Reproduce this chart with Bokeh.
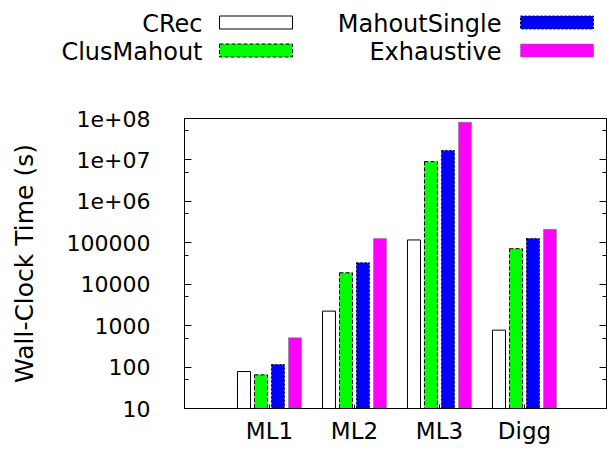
from bokeh.plotting import figure
from bokeh.models import Range1d, FixedTicker, LogAxis
from bokeh.embed import file_html
from bokeh.resources import INLINE
from bokeh.core.properties import value

# ---- data ----
datasets = ["ML1", "ML2", "ML3", "Digg"]
series = ["CRec", "ClusMahout", "MahoutSingle", "Exhaustive"]
crec = [78, 2240, 117000, 780]
clus_mahout = [65, 18900, 9100000, 72000]
mahout_single = [115, 33000, 17000000, 127000]
exhaustive = [510, 127000, 81000000, 211000]
values = [crec, clus_mahout, mahout_single, exhaustive]
y_ticks = [10, 100, 1000, 10000, 100000, 1000000, 10000000, 100000000]
y_tick_labels = ["10", "100", "1000", "10000", "100000", "1e+06", "1e+07", "1e+08"]
y_minor = [50, 500, 5000, 50000, 500000, 5000000, 50000000]

# ---- style ----
FONT = "DejaVu Sans"
fill_colors = ["white", "#00ff00", "#0000ff", "#ff00ff"]
line_colors = ["black", "black", "#000022", "#777777"]
line_dashes = ["solid", "4 2", "2 2", "1 1"]
offsets = [-0.3, -0.1, 0.1, 0.3]
bar_w = 0.153

W = 607
LEG_H = 70

# ---- legend strip (label right-aligned, swatch to its right) ----
lg = figure(width=W, height=LEG_H, x_range=Range1d(0, W), y_range=Range1d(LEG_H, 0),
            toolbar_location=None, output_backend="svg", min_border=0)
lg.axis.visible = False
lg.grid.visible = False
lg.outline_line_color = None
text_right = [202, 501]
sw_left = [219, 520]
sw_width = 73
rows = [22, 50]
for i, name in enumerate(series):
    c, r = i // 2, i % 2
    lg.text(x=[text_right[c]], y=[rows[r] + 1], text=[name], text_align="right",
            text_baseline="middle", text_font=value(FONT), text_font_size="24px",
            text_color="black")
    lg.quad(left=[sw_left[c]], right=[sw_left[c] + sw_width],
            top=[rows[r] - 6.5], bottom=[rows[r] + 6.5],
            fill_color=fill_colors[i], line_color=line_colors[i],
            line_dash=line_dashes[i], line_width=1)

# ---- main chart ----
p = figure(width=W, height=450 - LEG_H, x_range=Range1d(0, 4.965),
           y_range=Range1d(10, 1e8), y_axis_type="log",
           toolbar_location=None, output_backend="svg",
           min_border_left=184, min_border_right=1, min_border_top=118 - LEG_H,
           min_border_bottom=42)
p.grid.visible = False
p.outline_line_color = "black"
p.outline_line_width = 1

xs = list(range(1, len(datasets) + 1))
for i, vals in enumerate(values):
    p.vbar(x=[x + offsets[i] for x in xs], top=vals, bottom=10, width=bar_w,
           fill_color=fill_colors[i], line_color=line_colors[i],
           line_dash=line_dashes[i], line_width=1)

xa = p.xaxis[0]
xa.ticker = FixedTicker(ticks=xs)
xa.major_label_overrides = {x: d for x, d in zip(xs, datasets)}
xa.major_tick_in = 4
xa.major_tick_out = 0
xa.minor_tick_line_color = None
xa.major_label_standoff = 9
xa.major_label_text_font = FONT
xa.major_label_text_font_size = "23px"
xa.major_label_text_color = "black"
xa.axis_line_color = "black"

ya = p.yaxis[0]
ya.ticker = FixedTicker(ticks=y_ticks, minor_ticks=y_minor)
ya.major_label_overrides = {t: l for t, l in zip(y_ticks, y_tick_labels)}
ya.major_tick_in = 7
ya.major_tick_out = 0
ya.minor_tick_in = 4
ya.minor_tick_out = 0
ya.major_label_standoff = 34
ya.major_label_text_font = FONT
ya.major_label_text_font_size = "22px"
ya.major_label_text_color = "black"
ya.axis_label = "Wall-Clock Time (s)"
ya.axis_label_text_font = FONT
ya.axis_label_text_font_size = "25px"
ya.axis_label_text_font_style = "normal"
ya.axis_label_text_color = "black"
ya.axis_label_standoff = 25
ya.axis_line_color = "black"

ra = LogAxis(ticker=FixedTicker(ticks=y_ticks, minor_ticks=y_minor),
             major_tick_in=7, major_tick_out=0, minor_tick_in=4, minor_tick_out=0,
             major_label_overrides={t: "" for t in y_ticks},
             major_label_text_font_size="1px", major_label_standoff=0,
             axis_line_color="black")
p.add_layout(ra, "right")

open("out.html", "w").write(file_html([lg, p], INLINE))
